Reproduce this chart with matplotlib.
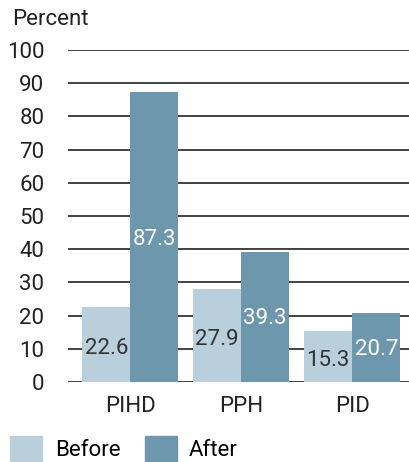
import matplotlib
matplotlib.use("Agg")
import matplotlib.pyplot as plt
import numpy as np
from matplotlib.patches import Patch

categories = ["PIHD", "PPH", "PID"]
before = [22.6, 27.9, 15.3]
after = [87.3, 39.3, 20.7]
yticks = [0, 10, 20, 30, 40, 50, 60, 70, 80, 90, 100]

plt.rcParams['font.family'] = ['Roboto', 'DejaVu Sans']

c_before = "#b9cfdc"
c_after = "#6d97ad"

fig = plt.figure(figsize=(4.10, 4.62), dpi=100)
ax = fig.add_axes([0.166, 0.173, 0.834, 0.719])

x = np.arange(len(categories))
w = 0.432
ax.bar(x - w/2, before, w, color=c_before, zorder=2)
ax.bar(x + w/2, after, w, color=c_after, zorder=2)

for i in range(len(categories)):
    ax.text(x[i] - w/2, before[i]/2 - 1.2, f"{before[i]}", ha="center", va="center",
            fontsize=16, color="#333333", zorder=3)
    ax.text(x[i] + w/2, after[i]/2 - 0.6, f"{after[i]}", ha="center", va="center",
            fontsize=16, color="white", zorder=3)

ax.set_xlim(-0.56, 2.52)
ax.set_ylim(0, 100)
ax.set_yticks(yticks)
ax.set_yticklabels([str(t) for t in yticks])
ax.set_xticks(x)
ax.set_xticklabels(categories)
ax.tick_params(axis="both", length=0, labelsize=16, colors="#222222")
ax.tick_params(axis="y", pad=17)
ax.tick_params(axis="x", pad=10)
for s in ax.spines.values():
    s.set_visible(False)
ax.yaxis.grid(True, color="#333333", linewidth=1.3, zorder=0)
ax.set_axisbelow(True)

fig.text(0.03, 0.957, "Percent", fontsize=16, color="#222222", va="center", ha="left")

handles = [Patch(color=c_before, label="Before"), Patch(color=c_after, label="After")]
fig.legend(handles=handles, loc="lower left", bbox_to_anchor=(0.025, 0.0), ncol=2,
           frameon=False, fontsize=16, handlelength=1.45, handleheight=1.45,
           handletextpad=0.55, columnspacing=1.1, borderaxespad=0, borderpad=0)

fig.savefig("out.png", dpi=100)
